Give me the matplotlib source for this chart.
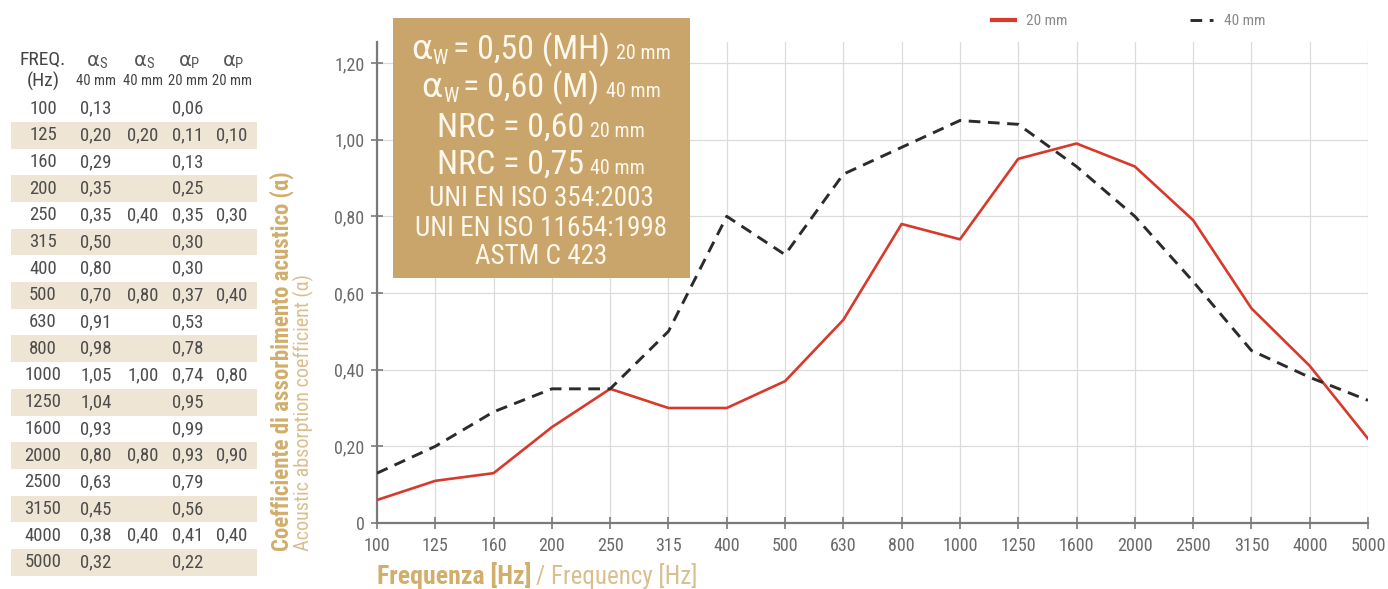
import matplotlib
matplotlib.use("Agg")
import matplotlib.pyplot as plt
from matplotlib.patches import Rectangle

# ---------------- data ----------------
freqs = ["100", "125", "160", "200", "250", "315", "400", "500", "630", "800",
         "1000", "1250", "1600", "2000", "2500", "3150", "4000", "5000"]
alpha_s_40 = [0.13, 0.20, 0.29, 0.35, 0.35, 0.50, 0.80, 0.70, 0.91, 0.98,
              1.05, 1.04, 0.93, 0.80, 0.63, 0.45, 0.38, 0.32]
alpha_p_20 = [0.06, 0.11, 0.13, 0.25, 0.35, 0.30, 0.30, 0.37, 0.53, 0.78,
              0.74, 0.95, 0.99, 0.93, 0.79, 0.56, 0.41, 0.22]
# octave-band practical values (only some frequencies)
alpha_s_oct = {"125": 0.20, "250": 0.40, "500": 0.80, "1000": 1.00, "2000": 0.80, "4000": 0.40}
alpha_p_oct = {"125": 0.10, "250": 0.30, "500": 0.40, "1000": 0.80, "2000": 0.90, "4000": 0.40}
yticks = [0, 0.2, 0.4, 0.6, 0.8, 1.0, 1.2]
ytick_labels = ["0", "0,20", "0,40", "0,60", "0,80", "1,00", "1,20"]
series_labels = ["20 mm", "40 mm"]

BIG, SUB, STD = 24.5, 14.5, 19.5
ALPHA_FAM = ["DejaVu Sans"]
box_lines = [
    [("α", BIG - 1, 0, 0, ALPHA_FAM), ("W", SUB, -5, 5, None), ("= 0,50 (MH)", BIG, 0, 6, None), ("20 mm", SUB, 0, 0, None)],
    [("α", BIG - 1, 0, 0, ALPHA_FAM), ("W", SUB, -5, 5, None), ("= 0,60 (M)", BIG, 0, 6, None), ("40 mm", SUB, 0, 0, None)],
    [("NRC = 0,60", BIG, 0, 6, None), ("20 mm", SUB, 0, 0, None)],
    [("NRC = 0,75", BIG, 0, 6, None), ("40 mm", SUB, 0, 0, None)],
    [("UNI EN ISO 354:2003", STD, 0, 0, None)],
    [("UNI EN ISO 11654:1998", STD, 0, 0, None)],
    [("ASTM C 423", STD, 0, 0, None)],
]

# ---------------- style ----------------
W, H = 1388, 589
FONT = ["Roboto Condensed", "Archivo Narrow", "Barlow Semi Condensed", "DejaVu Sans"]
plt.rcParams["font.family"] = FONT
TAN = "#C9A56B"
TAN_TXT = "#D1AE6B"
TAN_LIGHT = "#D9BF8D"
GRAY_TXT = "#6a6a6a"
AXIS_GRAY = "#7a7a7a"
RED = "#D8392B"

fig = plt.figure(figsize=(W / 100, H / 100), dpi=100)
fig.patch.set_facecolor("white")


def fx(px):
    return px / W


def fy(py):
    return 1 - py / H


# ---------------- main axes ----------------
ax = fig.add_axes([fx(377), fy(523), fx(1368 - 377), (523 - 42) / H])
x = list(range(len(freqs)))
ax.plot(x, alpha_p_20, color=RED, lw=1.9, label=series_labels[0], zorder=3)
ax.plot(x, alpha_s_40, color="#2b2b2b", lw=2.1, dashes=(4.0, 2.6),
        label=series_labels[1], zorder=4)
ax.set_xlim(0, len(freqs) - 1)
ax.set_ylim(0, 1.2 + 21 / 460 * 1.2)
ax.set_xticks(x)
ax.set_xticklabels(freqs)
ax.set_yticks(yticks)
ax.set_yticklabels(ytick_labels)
ax.grid(True, color="#dcdcdc", lw=0.9, zorder=0)
ax.set_axisbelow(True)
for s in ["top", "right"]:
    ax.spines[s].set_visible(False)
for s in ["left", "bottom"]:
    ax.spines[s].set_color(AXIS_GRAY)
    ax.spines[s].set_linewidth(1.6)
ax.tick_params(axis="both", direction="inout", length=8, width=1.2,
               color=AXIS_GRAY, labelcolor=GRAY_TXT)
ax.tick_params(axis="x", labelsize=13, pad=6)
ax.tick_params(axis="y", labelsize=13, pad=5)

# legend
leg = fig.legend(handles=ax.get_lines(), labels=series_labels, loc="center left",
                 bbox_to_anchor=(fx(992), fy(21)), ncol=2, frameon=False,
                 fontsize=11, handlelength=1.5, handletextpad=0.75, columnspacing=8.0,
                 borderpad=0, borderaxespad=0, labelcolor="#8a8a8a")
leg.get_lines()[0].set_linewidth(3)

# axis labels
fig.text(fx(282), fy(551), "Coefficiente di assorbimento acustico (α)",
         rotation=90, ha="center", va="bottom", fontsize=16.5, fontweight="bold",
         color=TAN_TXT)
fig.text(fx(303), fy(551), "Acoustic absorption coefficient (α)",
         rotation=90, ha="center", va="bottom", fontsize=14.5,
         color=TAN_LIGHT)

renderer = fig.canvas.get_renderer()


def place_line(pieces, xc_px, base_px, color):
    arts = []
    for s, size, dy, gap, fam in pieces:
        kw = {"family": fam} if fam else {}
        t = fig.text(0, fy(base_px), s, fontsize=size,
                     color=color, ha="left", va="baseline", zorder=5, **kw)
        arts.append((t, dy, gap))
    widths = [t.get_window_extent(renderer).width for t, _, _ in arts]
    total = sum(widths) + sum(g for _, _, g in arts[:-1])
    x0 = xc_px - total / 2
    for (t, dy, gap), w in zip(arts, widths):
        t.set_position((fx(x0), fy(base_px - dy)))
        x0 += w + gap


# x label
t1 = fig.text(fx(377), fy(584), "Frequenza [Hz]", fontsize=18.5, fontweight="bold",
              color=TAN_TXT, ha="left", va="baseline")
w1 = t1.get_window_extent(renderer).width
fig.text(fx(377 + w1 + 5), fy(584), "/ Frequency [Hz]", fontsize=18,
         color=TAN_LIGHT, ha="left", va="baseline")

# ---------------- info box ----------------
fig.add_artist(Rectangle((fx(393), fy(278)), fx(690 - 393), (278 - 18) / H,
                         transform=fig.transFigure, facecolor=TAN,
                         edgecolor="none", zorder=4))
baselines = [59, 97, 137, 174, 206, 236, 264]
for pieces, b in zip(box_lines, baselines):
    place_line(pieces, 541, b, "#FFF8EC")

# ---------------- table ----------------
col_x = [43, 96, 143, 188, 232]
row0 = 108.5
rstep = 26.7
TBL_TXT = "#4d4d4d"
FS_T = 13.5
for i, f in enumerate(freqs):
    yc = row0 + i * rstep
    if i % 2 == 1:
        fig.add_artist(Rectangle((fx(11), fy(yc + rstep / 2)), fx(257 - 11), rstep / H,
                                 transform=fig.transFigure, facecolor="#EEE5D4",
                                 edgecolor="none", zorder=0))
    fig.text(fx(col_x[0]), fy(yc), f, ha="center", va="center", fontsize=FS_T, color=TBL_TXT)
    fig.text(fx(col_x[1]), fy(yc), f"{alpha_s_40[i]:.2f}".replace(".", ","),
             ha="center", va="center", fontsize=FS_T, color=TBL_TXT)
    fig.text(fx(col_x[3]), fy(yc), f"{alpha_p_20[i]:.2f}".replace(".", ","),
             ha="center", va="center", fontsize=FS_T, color=TBL_TXT)
    if f in alpha_s_oct:
        fig.text(fx(col_x[2]), fy(yc), f"{alpha_s_oct[f]:.2f}".replace(".", ","),
                 ha="center", va="center", fontsize=FS_T, color=TBL_TXT)
    if f in alpha_p_oct:
        fig.text(fx(col_x[4]), fy(yc), f"{alpha_p_oct[f]:.2f}".replace(".", ","),
                 ha="center", va="center", fontsize=FS_T, color=TBL_TXT)

# header
fig.text(fx(col_x[0]), fy(60), "FREQ.", ha="center", va="center", fontsize=FS_T + 0.5, color="#444444")
fig.text(fx(col_x[0]), fy(81), "(Hz)", ha="center", va="center", fontsize=FS_T + 0.5, color="#444444")
hdr = [("S", "40 mm"), ("S", "40 mm"), ("P", "20 mm"), ("P", "20 mm")]
for (sub, mm), cx in zip(hdr, col_x[1:]):
    fig.text(fx(cx - 3), fy(60), "α", ha="center", va="center", fontsize=14,
             color="#555555", family=ALPHA_FAM)
    fig.text(fx(cx + 3), fy(64), sub, ha="left", va="center", fontsize=10.5, color="#555555")
    fig.text(fx(cx), fy(81), mm, ha="center", va="center", fontsize=10.5, color="#444444")

fig.savefig("out.png", dpi=100)
